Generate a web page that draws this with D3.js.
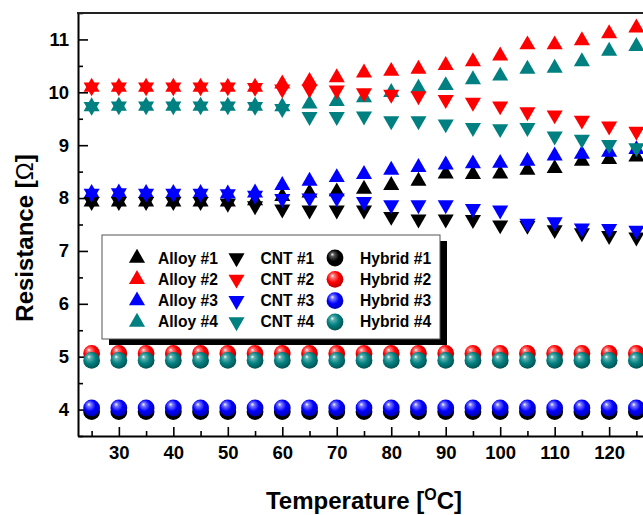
<!DOCTYPE html>
<html>
<head>
<meta charset="utf-8">
<script src="https://cdn.jsdelivr.net/npm/d3@7"></script>
<style>
  body { margin: 0; background: #fff; }
  svg { display: block; font-family: "Liberation Sans", Arial, sans-serif; font-weight: bold; }
</style>
</head>
<body>
<svg id="chart" width="643" height="515"></svg>
<script>
// temperatures (deg C)
var temps = [25, 30, 35, 40, 45, 50, 55, 60, 65, 70, 75, 80, 85, 90, 95, 100, 105, 110, 115, 120, 125];

// resistance (ohm)
var alloy1 = [7.93, 7.93, 7.93, 7.93, 7.93, 7.93, 7.95, 8.03, 8.10, 8.12, 8.17, 8.24, 8.32, 8.46, 8.45, 8.46, 8.53, 8.56, 8.70, 8.73, 8.78];
var alloy2 = [10.10, 10.10, 10.10, 10.10, 10.10, 10.10, 10.10, 10.16, 10.21, 10.28, 10.37, 10.40, 10.44, 10.51, 10.58, 10.69, 10.90, 10.90, 10.98, 11.11, 11.22];
var alloy3 = [8.09, 8.10, 8.09, 8.09, 8.09, 8.08, 8.10, 8.24, 8.32, 8.39, 8.45, 8.53, 8.58, 8.63, 8.65, 8.66, 8.70, 8.80, 8.83, 8.87, 8.92];
var alloy4 = [9.73, 9.74, 9.74, 9.74, 9.74, 9.74, 9.74, 9.73, 9.78, 9.83, 9.90, 10.00, 10.08, 10.13, 10.24, 10.31, 10.44, 10.46, 10.58, 10.78, 10.87];
var cnt1 = [7.93, 7.93, 7.93, 7.93, 7.93, 7.90, 7.85, 7.79, 7.77, 7.77, 7.77, 7.65, 7.60, 7.60, 7.59, 7.49, 7.48, 7.40, 7.34, 7.29, 7.26];
var cnt2 = [10.10, 10.10, 10.10, 10.10, 10.10, 10.10, 10.09, 10.06, 10.06, 10.04, 9.99, 9.96, 9.93, 9.86, 9.81, 9.74, 9.63, 9.57, 9.47, 9.36, 9.26];
var cnt3 = [8.09, 8.10, 8.09, 8.09, 8.09, 8.08, 8.05, 7.99, 8.00, 8.00, 7.93, 7.87, 7.87, 7.87, 7.80, 7.77, 7.52, 7.55, 7.43, 7.42, 7.39];
var cnt4 = [9.73, 9.74, 9.74, 9.74, 9.74, 9.74, 9.73, 9.69, 9.54, 9.54, 9.55, 9.46, 9.46, 9.40, 9.33, 9.31, 9.33, 9.17, 9.11, 9.01, 8.95];
var hybrid1 = [3.96, 3.96, 3.96, 3.96, 3.96, 3.96, 3.96, 3.96, 3.96, 3.96, 3.96, 3.96, 3.96, 3.96, 3.96, 3.96, 3.96, 3.96, 3.96, 3.96, 3.96];
var hybrid2 = [5.06, 5.06, 5.06, 5.06, 5.06, 5.06, 5.06, 5.06, 5.06, 5.06, 5.06, 5.06, 5.06, 5.06, 5.06, 5.06, 5.06, 5.06, 5.06, 5.06, 5.06];
var hybrid3 = [4.03, 4.03, 4.03, 4.03, 4.03, 4.03, 4.03, 4.03, 4.03, 4.03, 4.03, 4.03, 4.03, 4.03, 4.03, 4.03, 4.03, 4.03, 4.03, 4.03, 4.03];
var hybrid4 = [4.93, 4.93, 4.93, 4.93, 4.93, 4.93, 4.93, 4.93, 4.93, 4.93, 4.93, 4.93, 4.93, 4.93, 4.93, 4.93, 4.93, 4.93, 4.93, 4.93, 4.93];

var xTicks = [30, 40, 50, 60, 70, 80, 90, 100, 110, 120];
var xMinor = [25, 35, 45, 55, 65, 75, 85, 95, 105, 115, 125];
var yTicks = [4, 5, 6, 7, 8, 9, 10, 11];
var yMinor = [3.5, 4.5, 5.5, 6.5, 7.5, 8.5, 9.5, 10.5, 11.5];

var colors = ["#000000", "#ff0000", "#0000ff", "#008080"];
var dark = ["#000000", "#b00000", "#0000a8", "#004c4c"];
var light = ["#5a5a5a", "#ff7a7a", "#7a7aff", "#5fb0b0"];

// series in legend order (draw order too)
var series = [
  { name: "Alloy #1", kind: "up", c: 0, values: alloy1 },
  { name: "Alloy #2", kind: "up", c: 1, values: alloy2 },
  { name: "Alloy #3", kind: "up", c: 2, values: alloy3 },
  { name: "Alloy #4", kind: "up", c: 3, values: alloy4 },
  { name: "CNT #1", kind: "down", c: 0, values: cnt1 },
  { name: "CNT #2", kind: "down", c: 1, values: cnt2 },
  { name: "CNT #3", kind: "down", c: 2, values: cnt3 },
  { name: "CNT #4", kind: "down", c: 3, values: cnt4 },
  { name: "Hybrid #1", kind: "ball", c: 0, values: hybrid1 },
  { name: "Hybrid #2", kind: "ball", c: 1, values: hybrid2 },
  { name: "Hybrid #3", kind: "ball", c: 2, values: hybrid3 },
  { name: "Hybrid #4", kind: "ball", c: 3, values: hybrid4 }
];

var svg = d3.select("#chart");

var x = d3.scaleLinear().domain([22.5, 127.5]).range([78, 650]);
var y = d3.scaleLinear().domain([3.5, 11.5]).range([436, 13]);

// sphere gradients
var defs = svg.append("defs");
colors.forEach(function (col, i) {
  var g = defs.append("radialGradient")
    .attr("id", "ball" + i)
    .attr("cx", "0.45").attr("cy", "0.42").attr("r", "0.62")
    .attr("fx", "0.33").attr("fy", "0.28");
  g.append("stop").attr("offset", "0").attr("stop-color", "#ffffff");
  g.append("stop").attr("offset", "0.18").attr("stop-color", light[i]);
  g.append("stop").attr("offset", "0.55").attr("stop-color", col);
  g.append("stop").attr("offset", "1").attr("stop-color", dark[i]);
});

var tri = d3.symbol().type(d3.symbolTriangle).size(112);

function drawMarker(sel, d) {
  if (d.kind === "ball") {
    sel.append("circle").attr("r", 8.4).attr("fill", "url(#ball" + d.c + ")");
  } else {
    sel.append("path").attr("d", tri)
      .attr("fill", colors[d.c])
      .attr("transform", d.kind === "down" ? "rotate(180)" : null);
  }
}

// axes, ticks pointing inward
var xAxis = svg.append("g")
  .attr("transform", "translate(0,436)")
  .call(d3.axisBottom(x).tickValues(xTicks).tickSize(-9).tickSizeOuter(0).tickPadding(10));
svg.append("g")
  .attr("transform", "translate(0,436)")
  .call(d3.axisBottom(x).tickValues(xMinor).tickSize(-5).tickFormat(""))
  .select(".domain").remove();

var yAxis = svg.append("g")
  .attr("transform", "translate(78,0)")
  .call(d3.axisLeft(y).tickValues(yTicks).tickSize(-10).tickSizeOuter(0).tickPadding(9));
svg.append("g")
  .attr("transform", "translate(78,0)")
  .call(d3.axisLeft(y).tickValues(yMinor).tickSize(-5).tickFormat(""))
  .select(".domain").remove();

svg.selectAll(".tick line").attr("stroke", "#000").attr("stroke-width", 1.6);
svg.selectAll(".domain").attr("stroke", "#000").attr("stroke-width", 2);
svg.selectAll(".tick text")
  .attr("font-family", "Liberation Sans, Arial, sans-serif")
  .attr("font-weight", "bold")
  .attr("font-size", 18.5)
  .attr("fill", "#000");

// top frame line
svg.append("line")
  .attr("x1", 77).attr("x2", 650)
  .attr("y1", y(11.5)).attr("y2", y(11.5))
  .attr("stroke", "#222").attr("stroke-width", 2);

// data
var plot = svg.append("g");
series.forEach(function (s) {
  plot.selectAll(null)
    .data(temps.map(function (t, i) { return { t: t, v: s.values[i] }; }))
    .enter().append("g")
    .attr("transform", function (d) { return "translate(" + x(d.t) + "," + y(d.v) + ")"; })
    .each(function () { drawMarker(d3.select(this), s); });
});

// legend
var lg = svg.append("g").attr("transform", "translate(102,235)");
lg.append("rect").attr("x", 7).attr("y", 6).attr("width", 338).attr("height", 104).attr("fill", "#000");
lg.append("rect").attr("width", 338).attr("height", 104)
  .attr("fill", "#fff").attr("stroke", "#555").attr("stroke-width", 1);

var colX = [35, 134.5, 233];
var item = lg.selectAll("g.item")
  .data(series)
  .enter().append("g")
  .attr("class", "item")
  .attr("transform", function (d, i) {
    return "translate(" + colX[Math.floor(i / 4)] + "," + (23 + (i % 4) * 21.33) + ")";
  });
item.each(function (d) { drawMarker(d3.select(this), d); });
item.append("text")
  .attr("x", function (d) { return d.kind === "ball" ? 25 : (d.kind === "down" ? 24 : 21); })
  .attr("y", 5.5)
  .attr("font-size", 15.6)
  .text(function (d) { return d.name; });

// axis titles
var yt = svg.append("text")
  .attr("transform", "translate(33,238) rotate(-90)")
  .attr("text-anchor", "middle")
  .attr("font-size", 24);
yt.append("tspan").text("Resistance [");
yt.append("tspan").attr("font-weight", "normal").text("\u03a9");
yt.append("tspan").text("]");

var xt = svg.append("text")
  .attr("x", 364).attr("y", 509)
  .attr("text-anchor", "middle")
  .attr("font-size", 24);
xt.append("tspan").text("Temperature [");
xt.append("tspan").attr("font-size", 16).attr("dy", -9).text("O");
xt.append("tspan").attr("dy", 9).text("C]");
</script>
</body>
</html>
